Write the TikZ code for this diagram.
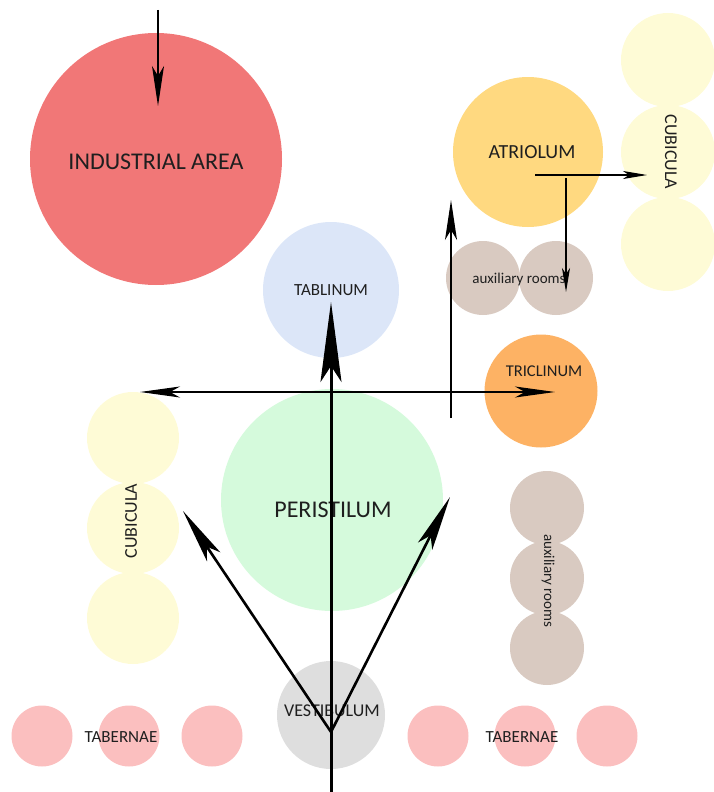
\documentclass[tikz,border=0pt]{standalone}
\usepackage{fontspec}
\setmainfont{Carlito}
\usetikzlibrary{arrows.meta}

\definecolor{industry}{HTML}{F17777}
\definecolor{atrium}{HTML}{FFD980}
\definecolor{cubicle}{HTML}{FEFBD6}
\definecolor{auxroom}{HTML}{D9CAC1}
\definecolor{tablin}{HTML}{DCE6F8}
\definecolor{triclin}{HTML}{FDB264}
\definecolor{peristyle}{HTML}{D5FADC}
\definecolor{vestib}{HTML}{DEDEDE}
\definecolor{taberna}{HTML}{FBBFBF}

\begin{document}
\begin{tikzpicture}[x=1pt,y=-1pt,
    room/.style={circle,inner sep=0pt,text=black!88},
    thinflow/.style={line width=1.4pt,-{Stealth[length=40pt,width=12pt,inset=10pt]}},
    smallflow/.style={line width=1.2pt,-{Stealth[length=24pt,width=8pt,inset=6pt]}},
    crossflow/.style={line width=2pt,{Stealth[length=40pt,width=11pt,inset=10pt]}-{Stealth[length=40pt,width=11pt,inset=10pt]}},
    mainflow/.style={line width=3pt,-{Stealth[length=80pt,width=21pt,inset=16pt]}},
    forkflow/.style={line width=2.6pt,-{Stealth[length=55pt,width=16pt,inset=12pt]}}]
  \useasboundingbox (0,0) rectangle (714,792);

  % rooms
  \node[room,fill=industry,minimum size=252pt,font=\fontsize{24}{28}\selectfont] (industrial) at (156,159) {};
  \node[font=\fontsize{24}{28}\selectfont,text=black!88] (industrialtext) at (156,162) {INDUSTRIAL AREA};
  \node[room,fill=atrium,minimum size=150pt,font=\fontsize{20}{24}\selectfont] (atriolum) at (528,152) {\hspace*{8pt}ATRIOLUM};
  \foreach \y [count=\i] in {60,152,244}
    \node[room,fill=cubicle,minimum size=94pt] (cubr\i) at (668,\y) {};
  \node[rotate=-90,font=\fontsize{18}{22}\selectfont,text=black!88] at ([xshift=3pt]cubr2) {CUBICULA};
  \foreach \x [count=\i] in {483,556}
    \node[room,fill=auxroom,minimum size=74pt] (auxt\i) at (\x,278) {};
  \node[font=\fontsize{15}{18}\selectfont,text=black!88] at (519,279) {auxiliary rooms};
  \node[room,fill=tablin,minimum size=136pt,font=\fontsize{17}{20}\selectfont] (tablinum) at (331,290) {TABLINUM};
  \node[room,fill=triclin,minimum size=113pt] (triclinum) at (541,391) {};
  \node[font=\fontsize{16.5}{20}\selectfont,text=black!88] at (544,371) {TRICLINUM};
  \node[room,fill=peristyle,minimum size=222pt] (peristilum) at (332,500) {};
  \node[font=\fontsize{24}{28}\selectfont,text=black!88] at (333,510) {PERISTILUM};
  \foreach \y [count=\i] in {438,528,618}
    \node[room,fill=cubicle,minimum size=92pt] (cubl\i) at (133,\y) {};
  \node[rotate=90,font=\fontsize{18}{22}\selectfont,text=black!88] at ([xshift=-2pt,yshift=7pt]cubl2) {CUBICULA};
  \foreach \y [count=\i] in {508,578,648}
    \node[room,fill=auxroom,minimum size=74pt] (auxr\i) at (547,\y) {};
  \node[rotate=-90,font=\fontsize{15}{18}\selectfont,text=black!88] at ([xshift=1pt,yshift=-3pt]auxr2) {auxiliary rooms};
  \node[room,fill=vestib,minimum size=108pt] (vestibulum) at (331,715) {};
  \node[font=\fontsize{18}{22}\selectfont,text=black!88] at (332,711) {VESTIBULUM};
  \foreach \x [count=\i] in {42,129,212}
    \node[room,fill=taberna,minimum size=61pt] (tabl\i) at (\x,736) {};
  \foreach \x [count=\i] in {438,525,607}
    \node[room,fill=taberna,minimum size=61pt] (tabr\i) at (\x,736) {};
  \node[font=\fontsize{17}{20}\selectfont,text=black!88] at (121,737) {TABERNAE};
  \node[font=\fontsize{17}{20}\selectfont,text=black!88] at (522,737) {TABERNAE};

  % paths
  \coordinate (indin) at (158,10);
  \coordinate (indtip) at (158,106);
  \coordinate (atrout) at (535,175);
  \coordinate (cubtip) at (647,175);
  \coordinate (atrdown) at (566,178);
  \coordinate (auxtip) at (566,292);
  \coordinate (sidefoot) at (451,418);
  \coordinate (sidetip) at (451,200);
  \coordinate (westtip) at (140,392);
  \coordinate (easttip) at (555,392);
  \coordinate (entry) at (331,792);
  \coordinate (tabtip) at (331,302);
  \coordinate (fork) at (331,732);
  \coordinate (lefttip) at (183,511);
  \coordinate (righttip) at (450,497);

  \draw[thinflow] (indin) -- (indtip);
  \draw[smallflow] (atrout) -- (cubtip);
  \draw[smallflow] (atrdown) -- (auxtip);
  \draw[thinflow] (sidefoot) -- (sidetip);
  \draw[crossflow] (westtip) -- (easttip);
  \draw[mainflow] (entry) -- (tabtip);
  \draw[forkflow] (fork) -- (lefttip);
  \draw[forkflow] (fork) -- (righttip);
\end{tikzpicture}
\end{document}
